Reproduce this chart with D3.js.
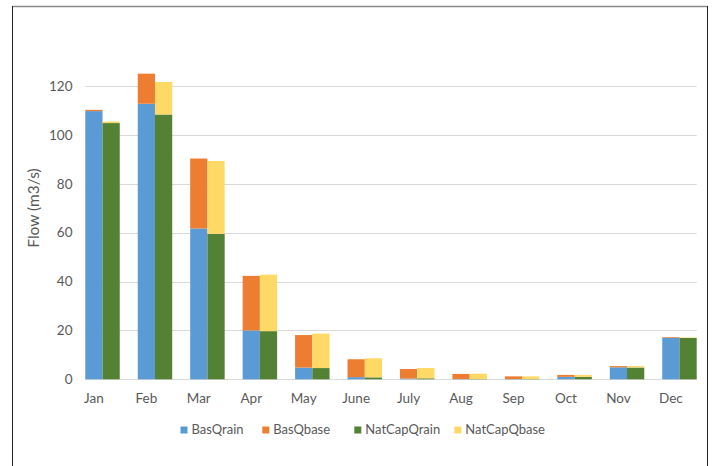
<!DOCTYPE html>
<html>
<head>
<meta charset="utf-8">
<script src="https://cdn.jsdelivr.net/npm/d3@7"></script>
<style>
  html, body { margin: 0; padding: 0; background: #fff; }
  svg { display: block; font-family: Lato, "Open Sans", sans-serif; }
</style>
</head>
<body>
<svg id="chart" width="716" height="466"></svg>
<script>
// Monthly flow components (m3/s) for the baseline and NatCap scenarios
const months = ["Jan", "Feb", "Mar", "Apr", "May", "June", "July", "Aug", "Sep", "Oct", "Nov", "Dec"];
const basQrain    = [109.7, 112.7, 61.7, 20.0, 4.8, 0.9, 0.3, 0.1, 0.1, 1.0, 4.9, 17.0];
const basQbase    = [0.5, 12.3, 28.6, 22.3, 13.3, 7.3, 3.9, 2.1, 1.1, 0.8, 0.5, 0.3];
const natCapQrain = [104.8, 108.3, 59.5, 19.7, 4.6, 0.8, 0.4, 0.1, 0.1, 1.0, 4.8, 16.9];
const natCapQbase = [0.6, 13.3, 29.8, 23.1, 14.1, 7.8, 4.2, 2.2, 1.1, 0.8, 0.6, 0.2];
const yTicks = [0, 20, 40, 60, 80, 100, 120];

const seriesNames = ["BasQrain", "BasQbase", "NatCapQrain", "NatCapQbase"];
const colors = {
  BasQrain: "#5B9BD5",
  BasQbase: "#ED7D31",
  NatCapQrain: "#548235",
  NatCapQbase: "#FFD966"
};

// Two stacks per month: scenario -> [rain, base]
const scenarios = [
  { key: "Bas", rain: basQrain, base: basQbase, rainName: "BasQrain", baseName: "BasQbase" },
  { key: "NatCap", rain: natCapQrain, base: natCapQbase, rainName: "NatCapQrain", baseName: "NatCapQbase" }
];

const svg = d3.select("#chart");
const plot = { left: 85.3, right: 696.7, top: 37, bottom: 379.3 };

const x = d3.scaleBand().domain(months).range([plot.left, plot.right])
  .paddingInner(0.343).paddingOuter(0);
const x1 = d3.scaleBand().domain(scenarios.map(s => s.key)).range([0, x.bandwidth()]);
const y = d3.scaleLinear().domain([0, 140]).range([plot.bottom, plot.top]);

// Frame
svg.append("line").attr("x1", 12).attr("x2", 707.5).attr("y1", 6.5).attr("y2", 6.5)
  .attr("stroke", "#8a8a8a").attr("stroke-width", 1.5);
svg.append("line").attr("x1", 12.5).attr("x2", 12.5).attr("y1", 6).attr("y2", 466)
  .attr("stroke", "#222").attr("stroke-width", 1);
svg.append("line").attr("x1", 707.5).attr("x2", 707.5).attr("y1", 6).attr("y2", 466)
  .attr("stroke", "#222").attr("stroke-width", 1);

// Gridlines
svg.append("g").selectAll("line").data(yTicks).join("line")
  .attr("x1", plot.left).attr("x2", plot.right)
  .attr("y1", d => Math.round(y(d)) + 0.5).attr("y2", d => Math.round(y(d)) + 0.5)
  .attr("stroke", "#d9d9d9").attr("stroke-width", 1);

// Y axis labels
const yAxis = d3.axisLeft(y).tickValues(yTicks).tickSize(0).tickPadding(0);
const gy = svg.append("g").attr("transform", `translate(72.5,0)`).call(yAxis);
gy.select(".domain").remove();
gy.selectAll("text").attr("fill", "#595959").style("font-size", "13.5px")
  .style("font-family", "Lato, 'Open Sans', sans-serif");

// Stacked bars
const stackRows = [];
months.forEach((m, i) => {
  scenarios.forEach(s => {
    stackRows.push({ month: m, scen: s.key, name: s.rainName, y0: 0, y1: s.rain[i] });
    stackRows.push({ month: m, scen: s.key, name: s.baseName, y0: s.rain[i], y1: s.rain[i] + s.base[i] });
  });
});
svg.append("g").selectAll("rect").data(stackRows).join("rect")
  .attr("x", d => x(d.month) + x1(d.scen))
  .attr("width", x1.bandwidth())
  .attr("y", d => y(d.y1))
  .attr("height", d => Math.max(0, y(d.y0) - y(d.y1)))
  .attr("fill", d => colors[d.name]);

// X axis labels, centred under the first bar of each month
const xAxis = d3.axisBottom(x).tickSize(0).tickPadding(0);
const gx = svg.append("g").attr("transform", `translate(${-x1.bandwidth() / 2},402.5)`).call(xAxis);
gx.select(".domain").remove();
gx.selectAll("text").attr("fill", "#595959").attr("dy", 0).style("font-size", "13.5px")
  .style("font-family", "Lato, 'Open Sans', sans-serif");

// Y axis title
svg.append("text")
  .attr("transform", "translate(39,208) rotate(-90)")
  .attr("text-anchor", "middle")
  .attr("fill", "#595959")
  .style("font-size", "15.5px")
  .text("Flow (m3/s)");

// Legend
const legendX = [180.5, 262.3, 354.3, 454.3];
const legend = svg.append("g");
seriesNames.forEach((name, i) => {
  const g = legend.append("g").attr("transform", `translate(${legendX[i]},426.5)`);
  g.append("rect").attr("width", 7).attr("height", 7).attr("fill", colors[name]);
  g.append("text").attr("x", 11).attr("y", 7.5).attr("fill", "#595959")
    .style("font-size", "13px").text(name);
});
</script>
</body>
</html>
